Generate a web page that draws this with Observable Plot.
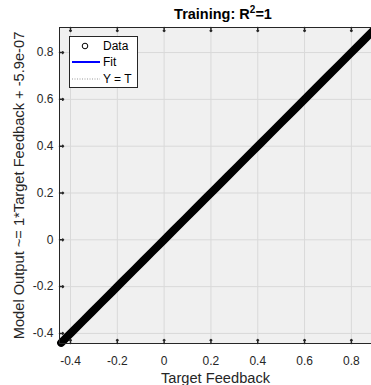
<!DOCTYPE html>
<html>
<head>
<meta charset="utf-8">
<script src="https://cdn.jsdelivr.net/npm/d3@7"></script>
<script src="https://cdn.jsdelivr.net/npm/@observablehq/plot@0.6"></script>
<style>
  html, body { margin: 0; padding: 0; background: #fff; overflow: hidden; }
  #wrap { position: relative; width: 371px; height: 385px; font-family: "Liberation Sans", Arial, sans-serif; }
  #title { position: absolute; left: 59px; width: 328px; top: 6px; text-align: center; font-weight: bold; font-size: 14.5px; line-height: 17px; color: #000; white-space: nowrap; }
  #title sup { font-size: 10px; vertical-align: 0; position: relative; top: -6px; }
  #legend { position: absolute; left: 69px; top: 36px; }
</style>
</head>
<body>
<div id="wrap">
  <div id="title">Training: R<sup>2</sup>=1</div>
  <div id="chart"></div>
  <svg id="legend" width="69" height="52"></svg>
</div>
<script>
// Data (targets vs network outputs: all points on the diagonal)
const targets = [-0.44, -0.42, -0.39, -0.35, -0.31, -0.27, -0.22, -0.18, -0.13, -0.09, -0.05, 0.0, 0.04, 0.09, 0.13, 0.18, 0.22, 0.27, 0.31, 0.36, 0.41, 0.45, 0.5, 0.55, 0.6, 0.65, 0.7, 0.75, 0.8, 0.85, 0.9, 0.93];
const outputs = [-0.44, -0.42, -0.39, -0.35, -0.31, -0.27, -0.22, -0.18, -0.13, -0.09, -0.05, 0.0, 0.04, 0.09, 0.13, 0.18, 0.22, 0.27, 0.31, 0.36, 0.41, 0.45, 0.5, 0.55, 0.6, 0.65, 0.7, 0.75, 0.8, 0.85, 0.9, 0.93];
const xTicks = [-0.4, -0.2, 0, 0.2, 0.4, 0.6, 0.8];
const yTicks = [-0.4, -0.2, 0, 0.2, 0.4, 0.6, 0.8];
const xDomain = [-0.447, 0.886];
const yDomain = [-0.443, 0.907];
const fitSlope = 1, fitIntercept = -5.9e-7;
const legendLabels = ["Data", "Fit", "Y = T"];

const pts = targets.map((t, i) => ({t, o: outputs[i]}));
const fitLine = xDomain.map(t => ({t, o: fitSlope * t + fitIntercept}));
const idLine = xDomain.map(t => ({t, o: t}));
const fmt = d => d === 0 ? "0" : String(d);
const axisColor = "#262626";

const chart = Plot.plot({
  width: 371,
  height: 385,
  marginTop: 27,
  marginBottom: 42,
  marginLeft: 59,
  marginRight: 0,
  style: { fontFamily: "Liberation Sans, Arial, sans-serif", fontSize: "12px", background: "transparent", color: axisColor },
  x: { domain: xDomain },
  y: { domain: yDomain },
  marks: [
    Plot.frame({ fill: "#f0f0f0", stroke: null }),
    Plot.gridX(xTicks, { stroke: "#d9d9d9", strokeOpacity: 1 }),
    Plot.gridY(yTicks, { stroke: "#d9d9d9", strokeOpacity: 1 }),
    Plot.line(idLine, { x: "t", y: "o", stroke: "#888", strokeWidth: 1, strokeDasharray: "1,2" }),
    Plot.line(fitLine, { x: "t", y: "o", stroke: "#0000ff", strokeWidth: 2 }),
    Plot.line(pts, { x: "t", y: "o", stroke: "#000", strokeWidth: 8, strokeLinecap: "round", strokeLinejoin: "round" }),
    Plot.frame({ stroke: axisColor, strokeWidth: 1 }),
    Plot.vectorX(xTicks, { x: d => d, frameAnchor: "bottom", length: 4, rotate: 0, anchor: "start", stroke: axisColor }),
    Plot.vectorX(xTicks, { x: d => d, frameAnchor: "top", length: 4, rotate: 180, anchor: "start", stroke: axisColor }),
    Plot.vectorY(yTicks, { y: d => d, frameAnchor: "left", length: 4, rotate: 90, anchor: "start", stroke: axisColor }),
    Plot.axisX(xTicks, { tickSize: 0, tickPadding: 13, tickFormat: fmt, fontSize: 12, label: null }),
    Plot.axisX({ ticks: [], tickSize: 0, label: "Target Feedback", labelAnchor: "center", labelArrow: "none", labelOffset: 39, fontSize: 14.67 }),
    Plot.axisY(yTicks, { tickSize: 0, tickPadding: 6, tickFormat: fmt, fontSize: 12, label: null }),
    Plot.axisY({ ticks: [], tickSize: 0, label: "Model Output ~= 1*Target Feedback + -5.9e-07", labelAnchor: "center", labelArrow: "none", labelOffset: 46, fontSize: 14.67 })
  ]
});
document.getElementById("chart").appendChild(chart);

// Legend
const lg = d3.select("#legend");
lg.append("rect").attr("x", 0.5).attr("y", 0.5).attr("width", 68).attr("height", 51).attr("fill", "#fff").attr("stroke", "#262626").attr("stroke-width", 1);
const rowsY = [10, 26, 43];
lg.append("circle").attr("cx", 16).attr("cy", rowsY[0]).attr("r", 2.8).attr("fill", "none").attr("stroke", "#000").attr("stroke-width", 1);
lg.append("line").attr("x1", 3).attr("x2", 31).attr("y1", rowsY[1]).attr("y2", rowsY[1]).attr("stroke", "#0000ff").attr("stroke-width", 2);
lg.append("line").attr("x1", 3).attr("x2", 31).attr("y1", rowsY[2]).attr("y2", rowsY[2]).attr("stroke", "#999").attr("stroke-width", 1).attr("stroke-dasharray", "1,1.5");
legendLabels.forEach((s, i) => {
  lg.append("text").attr("x", 34).attr("y", rowsY[i]).attr("dy", "0.36em").attr("font-size", 12).attr("font-family", "Liberation Sans, Arial, sans-serif").attr("fill", "#000").text(s);
});
</script>
</body>
</html>
